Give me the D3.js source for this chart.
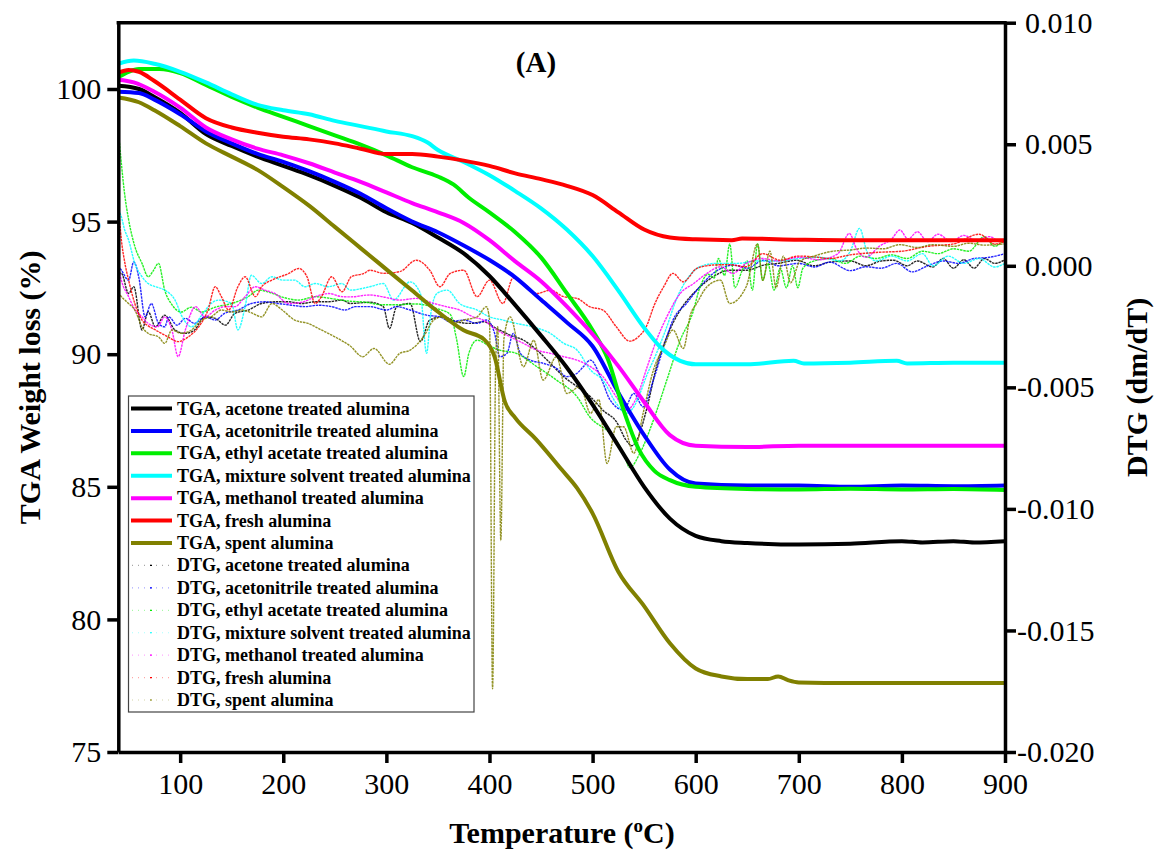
<!DOCTYPE html>
<html>
<head>
<meta charset="utf-8">
<script src="https://d3js.org/d3.v7.min.js"></script>
<style>
  body { margin: 0; background: #fff; }
  svg text { font-family: "Liberation Serif", "Times New Roman", serif; }
</style>
</head>
<body>
<script>
// ---- data: [temperature (degC), value] ----
const tgaAcetone = [[40,100.12],[60,100.0],[75,99.7],[100,99.1],[125,98.3],[150,97.85],[175,97.45],[200,97.1],[225,96.75],[250,96.35],[275,95.9],[300,95.35],[325,94.95],[350,94.4],[375,93.8],[400,92.95],[425,91.85],[450,90.7],[475,89.5],[500,88.1],[525,86.55],[550,85.0],[575,83.8],[600,83.15],[625,82.95],[650,82.88],[700,82.82],[750,82.85],[800,82.95],[820,82.9],[850,82.95],[870,82.9],[900,82.95]];
const tgaAcetonitrile = [[40,99.9],[60,99.85],[75,99.6],[100,99.05],[125,98.4],[150,97.95],[175,97.55],[200,97.25],[225,96.9],[250,96.5],[275,96.05],[300,95.5],[325,95.0],[350,94.6],[375,94.1],[400,93.55],[425,92.9],[450,92.05],[475,91.2],[500,90.3],[525,88.55],[550,86.95],[575,85.65],[600,85.12],[650,85.05],[700,85.05],[750,85.0],[800,85.05],[850,85.02],[900,85.05]];
const tgaEthylAcetate = [[40,100.45],[50,100.65],[60,100.75],[80,100.75],[100,100.6],[125,100.15],[150,99.7],[175,99.3],[200,98.95],[225,98.6],[250,98.25],[275,97.9],[300,97.5],[325,97.05],[350,96.7],[365,96.4],[380,95.9],[400,95.35],[425,94.6],[450,93.65],[475,92.3],[500,90.9],[515,89.8],[530,87.9],[545,86.4],[560,85.6],[575,85.25],[600,85.0],[650,84.92],[700,84.9],[750,84.93],[800,84.9],[850,84.92],[900,84.88]];
const tgaMixture = [[40,100.95],[55,101.07],[75,100.95],[100,100.65],[125,100.25],[150,99.8],[175,99.4],[200,99.2],[225,99.05],[250,98.8],[275,98.6],[300,98.4],[325,98.22],[340,97.98],[350,97.7],[375,97.25],[400,96.75],[425,96.15],[450,95.5],[475,94.7],[500,93.7],[525,92.4],[550,91.0],[565,90.3],[585,89.75],[600,89.62],[650,89.62],[695,89.75],[705,89.65],[750,89.68],[795,89.75],[805,89.65],[850,89.68],[900,89.68]];
const tgaMethanol = [[40,100.35],[55,100.25],[75,99.9],[100,99.3],[125,98.55],[150,98.1],[175,97.75],[200,97.5],[225,97.2],[250,96.85],[275,96.5],[300,96.1],[325,95.7],[350,95.35],[375,94.95],[400,94.3],[425,93.5],[450,92.75],[475,91.8],[500,90.75],[525,89.55],[550,88.2],[575,86.95],[600,86.55],[650,86.5],[700,86.55],[750,86.55],[800,86.55],[850,86.55],[900,86.55]];
const tgaFresh = [[40,100.62],[50,100.72],[60,100.65],[75,100.3],[100,99.6],[125,98.9],[150,98.55],[175,98.35],[200,98.2],[225,98.1],[250,97.95],[275,97.75],[300,97.55],[325,97.55],[350,97.45],[375,97.3],[400,97.1],[425,96.82],[450,96.6],[475,96.35],[500,96.0],[525,95.35],[550,94.7],[575,94.4],[600,94.33],[635,94.3],[645,94.36],[700,94.32],[750,94.3],[800,94.3],[850,94.3],[900,94.3]];
const tgaSpent = [[40,99.68],[60,99.5],[75,99.2],[100,98.6],[125,97.95],[150,97.45],[175,96.95],[200,96.3],[225,95.6],[250,94.8],[275,94.0],[300,93.2],[325,92.4],[350,91.6],[375,90.9],[395,90.55],[405,89.9],[415,88.2],[425,87.6],[445,86.8],[470,85.65],[485,84.95],[500,84.0],[525,81.8],[550,80.5],[575,79.1],[600,78.15],[625,77.85],[650,77.75],[670,77.75],[680,77.85],[690,77.7],[700,77.62],[750,77.6],[800,77.6],[850,77.6],[900,77.6]];

// DTG values in units of 1e-3 (dm/dT)
const dtgAcetone = [[40,-0.3],[43,-0.31],[50,-1.14],[55,-0.86],[63,-2.64],[69,-1.89],[76,-2.51],[85,-2.03],[95,-2.64],[105,-2.78],[114,-2.64],[124,-2.1],[134,-2.16],[144,-2.44],[153,-1.96],[166,-1.82],[179,-1.55],[192,-1.48],[205,-1.48],[218,-1.55],[231,-1.48],[244,-1.48],[257,-1.41],[265,-1.55],[284,-1.5],[297,-1.68],[303,-2.58],[310,-1.68],[323,-1.55],[333,-3.12],[342,-2.23],[355,-2.1],[368,-2.3],[381,-2.37],[394,-2.3],[407,-2.58],[420,-2.85],[433,-3.06],[446,-3.47],[459,-4.01],[472,-4.56],[485,-4.97],[498,-5.39],[510,-5.94],[523,-6.41],[533,-7.2],[538,-7.4],[543,-7.17],[553,-5.8],[562,-4.15],[572,-2.92],[585,-1.82],[601,-1.0],[617,-0.45],[633,-0.18],[650,-0.18],[666,0.03],[680,0.1],[698,0.23],[715,0.0],[730,0.15],[750,0.2],[765,0.0],[780,0.2],[792,0.23],[805,0.0],[815,0.2],[830,-0.05],[840,0.3],[850,-0.1],[860,0.25],[870,-0.1],[880,0.3],[890,0.1],[900,0.25]];
const dtgAcetonitrile = [[40,0.0],[43,-0.18],[50,-0.59],[55,0.16],[60,-0.5],[66,-2.1],[72,-1.55],[79,-2.37],[85,-2.51],[89,-2.1],[97,-2.44],[105,-2.16],[114,-2.37],[124,-2.1],[134,-2.23],[143,-1.96],[156,-1.82],[169,-1.55],[182,-1.48],[195,-1.55],[208,-1.62],[221,-1.68],[234,-1.62],[247,-1.68],[260,-1.82],[270,-1.68],[284,-1.68],[300,-1.82],[310,-1.68],[323,-1.82],[339,-2.03],[352,-2.1],[362,-2.3],[375,-2.23],[388,-2.37],[397,-2.23],[405,-2.78],[410,-3.74],[417,-3.6],[423,-2.78],[430,-3.6],[439,-3.87],[452,-4.01],[465,-4.22],[475,-4.56],[485,-4.42],[491,-4.15],[498,-3.88],[508,-4.6],[517,-5.52],[530,-5.93],[540,-5.25],[549,-5.8],[559,-4.7],[569,-3.33],[578,-2.23],[591,-1.55],[604,-0.86],[617,-0.31],[637,0.03],[650,-0.1],[666,0.23],[680,0.0],[700,0.1],[715,-0.05],[730,0.15],[750,-0.2],[765,-0.04],[780,-0.1],[795,0.1],[810,-0.25],[825,0.0],[840,0.2],[855,0.1],[870,0.3],[885,0.35],[900,0.5]];
const dtgEthylAcetate = [[40,5.6],[43,4.2],[46,3.0],[50,1.9],[56,0.8],[63,0.1],[69,-0.45],[74,-0.2],[79,0.1],[85,-1.0],[92,-1.6],[101,-1.9],[111,-1.7],[121,-1.9],[134,-1.7],[150,-1.55],[166,-1.27],[176,-1.0],[189,-1.13],[200,-1.3],[215,-1.41],[231,-1.27],[247,-1.35],[263,-1.45],[280,-1.5],[295,-1.6],[310,-1.6],[329,-1.57],[349,-1.76],[362,-2.0],[368,-3.0],[375,-4.56],[380,-3.6],[388,-3.06],[400,-3.3],[410,-3.47],[426,-3.6],[446,-4.15],[465,-4.7],[485,-5.39],[497,-6.2],[517,-6.9],[530,-7.7],[536,-8.3],[546,-7.7],[559,-6.35],[572,-4.7],[585,-3.06],[597,-1.95],[604,-0.9],[612,-0.35],[618,-0.5],[622,0.3],[628,-0.4],[633,0.9],[638,-0.9],[645,-0.2],[650,0.2],[655,-1.0],[660,0.9],[665,-0.6],[670,0.1],[676,-1.0],[682,-0.1],[688,-0.9],[694,0.0],[699,-0.9],[704,-0.1],[715,0.2],[730,0.3],[745,0.1],[760,0.4],[775,0.3],[790,0.45],[805,0.3],[820,0.6],[835,0.5],[850,0.7],[865,0.6],[880,1.2],[890,0.8],[900,1.1]];
const dtgMixture = [[40,2.3],[43,2.01],[46,1.5],[50,1.06],[56,0.1],[63,-0.45],[69,-0.73],[76,-0.86],[85,-1.0],[95,-1.41],[102,-2.1],[111,-2.51],[121,-2.03],[130,-1.55],[137,-1.41],[150,-1.55],[156,-2.64],[163,-1.68],[169,-0.39],[179,-0.73],[189,-0.45],[199,-0.59],[211,-0.59],[221,-0.86],[231,-0.73],[244,-0.86],[257,-0.73],[265,-1.0],[284,-0.86],[297,-0.73],[307,-1.41],[323,-0.66],[333,-1.14],[339,-3.6],[343,-2.0],[349,-1.14],[359,-1.0],[371,-1.55],[388,-1.82],[400,-2.1],[413,-2.23],[426,-2.37],[442,-2.51],[459,-2.78],[472,-3.19],[485,-3.47],[498,-4.29],[510,-4.7],[523,-5.66],[533,-6.07],[540,-5.8],[546,-5.25],[552,-4.56],[562,-3.6],[572,-2.51],[581,-1.41],[591,-0.59],[604,-0.04],[620,0.1],[640,0.1],[660,0.2],[680,0.2],[700,0.3],[720,0.35],[740,0.2],[750,0.6],[759,1.54],[766,0.6],[775,0.2],[790,0.4],[805,0.2],[820,0.5],[830,0.0],[845,0.4],[860,0.1],[875,0.3],[890,-0.05],[900,0.1]];
const dtgMethanol = [[40,-0.04],[43,-0.6],[50,-1.27],[56,-1.8],[63,-2.1],[69,-2.37],[78,-2.51],[85,-2.1],[92,-2.64],[98,-3.74],[105,-2.64],[115,-1.68],[124,-2.1],[134,-1.82],[144,-1.68],[153,-1.68],[163,-1.27],[173,-0.86],[182,-1.0],[192,-1.14],[205,-1.55],[218,-1.5],[231,-1.27],[244,-1.14],[257,-1.27],[265,-1.28],[284,-1.2],[297,-1.28],[313,-1.41],[329,-1.34],[346,-1.55],[358,-1.68],[371,-1.82],[384,-2.1],[394,-2.23],[407,-2.64],[420,-2.92],[433,-3.19],[446,-3.47],[459,-3.6],[472,-3.74],[485,-3.88],[498,-4.15],[510,-4.56],[523,-5.39],[533,-5.94],[543,-5.39],[553,-4.15],[562,-3.06],[572,-2.1],[585,-1.14],[598,-0.73],[611,-0.31],[624,-0.04],[636,-0.31],[649,0.1],[665,0.3],[680,0.2],[700,0.35],[720,0.25],[738,0.5],[749,1.33],[756,0.7],[765,0.35],[778,0.8],[790,1.1],[798,1.47],[806,1.1],[815,1.4],[825,1.0],[835,1.3],[848,1.0],[860,1.25],[872,1.05],[885,1.2],[895,1.0],[900,1.1]];
const dtgFresh = [[40,2.6],[43,1.06],[46,0.2],[50,-0.59],[56,-1.55],[63,-2.23],[70,-2.5],[76,-2.64],[88,-2.92],[98,-3.12],[108,-2.92],[118,-2.51],[127,-1.82],[134,-0.86],[140,-1.27],[147,-1.82],[156,-0.86],[163,-0.45],[173,-1.27],[179,-0.86],[189,-0.59],[205,-0.32],[215,-0.11],[223,-0.45],[231,-1.55],[237,-1.27],[247,-0.45],[257,-1.07],[266,-0.45],[279,-0.3],[284,-0.18],[297,-0.31],[313,-0.24],[329,0.23],[342,-0.18],[352,-0.86],[362,-0.31],[375,-0.18],[388,-1.27],[400,-0.59],[413,-1.55],[423,-0.5],[433,-0.72],[446,-1.14],[459,-1.0],[472,-1.27],[485,-1.34],[497,-1.68],[510,-1.82],[523,-2.51],[536,-3.1],[545,-2.9],[552,-2.51],[560,-1.6],[569,-0.86],[578,-0.31],[588,-0.66],[601,-0.11],[617,0.03],[632,0.05],[649,-0.04],[665,0.5],[682,0.23],[700,0.4],[714,0.37],[730,0.3],[750,0.45],[775,0.55],[800,0.6],[825,0.8],[850,0.9],[875,1.3],[890,0.9],[900,1.0]];
const dtgSpent = [[40,-1.1],[43,-1.27],[50,-1.55],[56,-1.82],[63,-2.51],[69,-2.78],[79,-2.92],[85,-3.19],[92,-2.64],[101,-2.78],[111,-2.64],[121,-2.23],[130,-2.1],[140,-1.82],[150,-1.9],[160,-1.82],[170,-1.95],[179,-2.1],[189,-1.55],[199,-1.82],[211,-2.23],[224,-2.37],[237,-2.64],[250,-2.92],[265,-3.3],[277,-3.74],[288,-3.4],[303,-4.05],[313,-3.6],[323,-3.47],[336,-2.92],[346,-2.23],[355,-2.1],[365,-2.37],[375,-2.23],[388,-2.1],[397,-1.68],[400,-2.2],[403,-17.4],[406,-4.0],[408,-2.5],[411,-11.3],[414,-3.0],[420,-2.1],[433,-4.15],[443,-3.06],[452,-4.7],[465,-3.74],[475,-5.25],[488,-4.97],[498,-6.07],[506,-5.5],[514,-8.13],[523,-6.62],[530,-6.62],[540,-7.71],[549,-6.07],[559,-4.29],[569,-3.33],[578,-2.64],[588,-3.4],[595,-2.0],[601,-1.55],[611,-0.86],[624,-0.59],[633,-1.55],[649,-0.86],[660,0.9],[665,-0.6],[672,0.6],[678,-0.9],[685,0.4],[692,-0.7],[701,0.18],[715,0.4],[733,0.6],[750,0.65],[766,0.73],[782,0.7],[798,0.87],[815,0.75],[830,0.87],[850,0.8],[865,0.93],[880,0.85],[900,0.9]];

const sampleNames = ["acetone treated alumina", "acetonitrile treated alumina", "ethyl acetate treated alumina",
  "mixture solvent treated alumina", "methanol treated alumina", "fresh alumina", "spent alumina"];
const colors = ["#000000", "#0000ff", "#00ee00", "#00ffff", "#ff00ff", "#ff0000", "#808000"];
const tgaSeries = [tgaAcetone, tgaAcetonitrile, tgaEthylAcetate, tgaMixture, tgaMethanol, tgaFresh, tgaSpent];
const dtgSeries = [dtgAcetone, dtgAcetonitrile, dtgEthylAcetate, dtgMixture, dtgMethanol, dtgFresh, dtgSpent];

const xTicks = [100, 200, 300, 400, 500, 600, 700, 800, 900];
const yLeftTicks = [75, 80, 85, 90, 95, 100];
const yRightTicks = [-20, -15, -10, -5, 0, 5, 10];

// ---- layout ----
const width = 1154, height = 851;
const plotLeft = 118.3, plotRight = 1005, plotTop = 22.7, plotBottom = 752;

const svg = d3.select("body").append("svg")
  .attr("width", width).attr("height", height);

const x = d3.scaleLinear().domain([40, 900]).range([plotLeft, plotRight]);
const yL = d3.scaleLinear().domain([75, 102.5]).range([plotBottom, plotTop]);
const yR = d3.scaleLinear().domain([-20, 10]).range([plotBottom, plotTop]);

svg.append("defs").append("clipPath").attr("id", "clip")
  .append("rect").attr("x", plotLeft).attr("y", plotTop)
  .attr("width", plotRight - plotLeft).attr("height", plotBottom - plotTop);

const plot = svg.append("g").attr("clip-path", "url(#clip)");

const dtgLine = d3.line().x(d => x(d[0])).y(d => yR(d[1])).curve(d3.curveMonotoneX);
const tgaLine = d3.line().x(d => x(d[0])).y(d => yL(d[1])).curve(d3.curveMonotoneX);

// DTG curves are drawn as dense dotted lines (Origin "dot" style)
dtgSeries.forEach((s, i) => {
  plot.append("path").datum(s)
    .attr("d", dtgLine)
    .attr("fill", "none")
    .attr("stroke", colors[i])
    .attr("stroke-width", 1.4)
    .attr("stroke-opacity", 0.85)
    .attr("stroke-dasharray", "2.5,0.8");
});

tgaSeries.forEach((s, i) => {
  plot.append("path").datum(s)
    .attr("d", tgaLine)
    .attr("fill", "none")
    .attr("stroke", colors[i])
    .attr("stroke-width", 4)
    .attr("stroke-linejoin", "round");
});

// ---- axes ----
function styleAxis(g) {
  g.select(".domain").attr("stroke-width", 3.5);
  g.selectAll(".tick line").attr("stroke-width", 3.5);
  g.selectAll(".tick text").attr("font-size", 30).attr("fill", "#000")
    .style("font-family", '"Liberation Serif", "Times New Roman", serif');
}

svg.append("g")
  .attr("transform", `translate(0,${plotBottom})`)
  .call(d3.axisBottom(x).tickValues(xTicks).tickSize(11).tickSizeOuter(0).tickPadding(10))
  .call(styleAxis);

svg.append("g")
  .attr("transform", `translate(${plotLeft},0)`)
  .call(d3.axisLeft(yL).tickValues(yLeftTicks).tickSize(11).tickSizeOuter(0).tickPadding(6))
  .call(styleAxis);

const rightAxis = svg.append("g")
  .attr("transform", `translate(${plotRight},0)`)
  .call(d3.axisRight(yR).tickValues(yRightTicks).tickSize(11).tickSizeOuter(0).tickPadding(9)
    .tickFormat(d => (d < 0 ? "-" : "") + Math.abs(d / 1000).toFixed(3)))
  .call(styleAxis);
rightAxis.selectAll(".tick text").attr("x", d => d < 0 ? 12 : 20);

svg.append("line")
  .attr("x1", plotLeft - 1.7).attr("x2", plotRight + 1.7)
  .attr("y1", plotTop).attr("y2", plotTop)
  .attr("stroke", "#000").attr("stroke-width", 3.5);

// ---- titles ----
const xTitle = svg.append("text")
  .attr("x", 562).attr("y", 843)
  .attr("text-anchor", "middle")
  .attr("font-size", 30).attr("font-weight", "bold");
xTitle.append("tspan").text("Temperature (");
xTitle.append("tspan").attr("font-size", 19).attr("dy", -11).text("o");
xTitle.append("tspan").attr("dy", 11).text("C)");

svg.append("text")
  .attr("transform", `translate(40,${(plotTop + plotBottom) / 2}) rotate(-90)`)
  .attr("text-anchor", "middle")
  .attr("font-size", 30).attr("font-weight", "bold")
  .text("TGA Weight loss (%)");

svg.append("text")
  .attr("transform", `translate(1147,${(plotTop + plotBottom) / 2}) rotate(-90)`)
  .attr("text-anchor", "middle")
  .attr("font-size", 30).attr("font-weight", "bold")
  .text("DTG (dm/dT)");

svg.append("text")
  .attr("x", 536).attr("y", 72)
  .attr("text-anchor", "middle")
  .attr("font-size", 29).attr("font-weight", "bold")
  .text("(A)");

// ---- legend ----
const legendItems = sampleNames.map((n, i) => ({ label: "TGA, " + n, color: colors[i], kind: "tga" }))
  .concat(sampleNames.map((n, i) => ({ label: "DTG, " + n, color: colors[i], kind: "dtg" })));

const legend = svg.append("g");
legend.append("rect")
  .attr("x", 128.5).attr("y", 396).attr("width", 345.5).attr("height", 316)
  .attr("fill", "#fff").attr("stroke", "#444").attr("stroke-width", 1.2);

const rowY = d3.scaleLinear().domain([0, 13]).range([408.5, 700]);
legendItems.forEach((it, i) => {
  const yy = rowY(i);
  if (it.kind === "tga") {
    legend.append("line").attr("x1", 131).attr("x2", 172).attr("y1", yy).attr("y2", yy)
      .attr("stroke", it.color).attr("stroke-width", 4);
  } else {
    legend.append("line").attr("x1", 132).attr("x2", 172).attr("y1", yy).attr("y2", yy)
      .attr("stroke", it.color).attr("stroke-width", 1.2).attr("stroke-opacity", 0.35)
      .attr("stroke-dasharray", "1,5");
    legend.append("line").attr("x1", 150).attr("x2", 152).attr("y1", yy).attr("y2", yy)
      .attr("stroke", it.color).attr("stroke-width", 1.2);
  }
  legend.append("text").attr("x", 177).attr("y", yy + 6)
    .attr("font-size", 18).attr("font-weight", "bold").attr("fill", "#000")
    .text(it.label);
});
</script>
</body>
</html>
